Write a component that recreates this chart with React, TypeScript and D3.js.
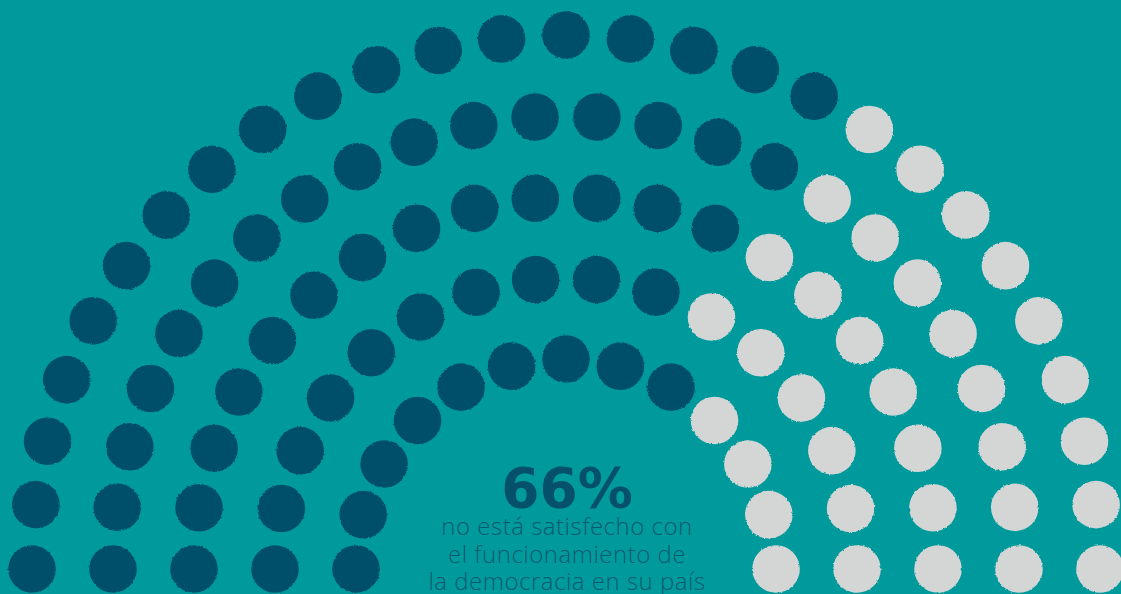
import React from "react";
import * as d3 from "d3";

const ringSeats = [27, 24, 20, 16, 13];
const ringDisagree = [18, 16, 13, 10, 9];
const headline = "66%";
const captionLines = ["no está satisfecho con", "el funcionamiento de", "la democracia en su país"];

const W = 1121;
const H = 594;
const cx = 566;
const cy = 569;

export default function App() {
  const rScale = d3.scaleLinear().domain([0, ringSeats.length - 1]).range([534, 210]);
  const dots: { x: number; y: number; dark: boolean; key: string }[] = [];
  ringSeats.forEach((n, i) => {
    const R = rScale(i);
    const ang = d3.scaleLinear().domain([0, n - 1]).range([Math.PI, 0]);
    for (let k = 0; k < n; k++) {
      const a = ang(k);
      dots.push({
        x: cx + R * Math.cos(a),
        y: cy - R * Math.sin(a),
        dark: k < ringDisagree[i],
        key: `${i}-${k}`,
      });
    }
  });
  return (
    <div style={{ position: "fixed", left: 0, top: 0 }}>
      <svg width={W} height={H} style={{ display: "block" }}>
        <defs>
          <filter id="rough" x="-10%" y="-10%" width="120%" height="120%">
            <feTurbulence type="fractalNoise" baseFrequency="0.35" numOctaves="2" seed="3" result="n" />
            <feDisplacementMap in="SourceGraphic" in2="n" scale="2.5" xChannelSelector="R" yChannelSelector="G" />
          </filter>
        </defs>
        <rect width={W} height={H} fill="#009A9C" />
        <g filter="url(#rough)">
          {dots.map((d) => (
            <circle key={d.key} cx={d.x} cy={d.y} r={23.8} fill={d.dark ? "#05506A" : "#D4D6D5"} />
          ))}
        </g>
        <text x={567} y={507} textAnchor="middle" fontFamily="'DejaVu Sans', sans-serif" fontWeight={700} fontSize={55} fill="#05506A">
          {headline}
        </text>
        {captionLines.map((t, i) => (
          <text key={i} x={567} y={535 + i * 27.5} textAnchor="middle" fontFamily="'Open Sans', sans-serif" fontWeight={300} fontSize={24} letterSpacing={0.5} fill="#0B5A70">
            {t}
          </text>
        ))}
      </svg>
    </div>
  );
}
